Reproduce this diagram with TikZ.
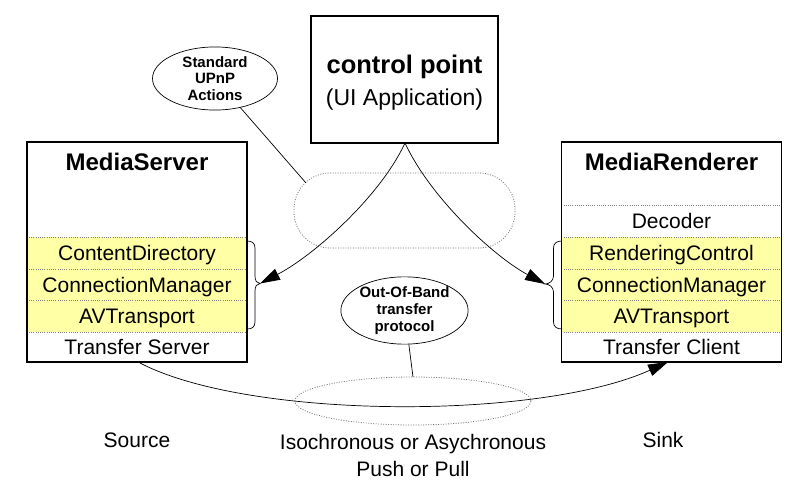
\documentclass[tikz,border=0pt]{standalone}
\usepackage{fontspec}
\setmainfont{Liberation Sans}
\usetikzlibrary{arrows.meta,shapes.geometric,calc}
\definecolor{svcyellow}{RGB}{255,255,165}
\begin{document}
\begin{tikzpicture}[x=1pt,y=-1pt,
  txt/.style={inner sep=0pt, text height=15pt, text depth=0pt, font=\fontsize{21}{24}\selectfont},
  titletxt/.style={inner sep=0pt, text height=17pt, text depth=0pt, font=\bfseries\fontsize{24}{27}\selectfont},
  row/.style={minimum width=220pt, minimum height=31.67pt, inner sep=0pt, text height=15pt, text depth=0pt, font=\fontsize{21}{24}\selectfont},
  yrow/.style={row, fill=svcyellow},
  sep/.style={draw=gray, line width=0.6pt, dash pattern=on 0.8pt off 1.4pt},
  frame/.style={draw=black, line width=1.1pt, minimum width=220pt, minimum height=220pt, inner sep=0pt},
  bub/.style={ellipse, draw, line width=0.7pt, inner sep=0pt, align=center, font=\bfseries\fontsize{15}{16.8}\selectfont},
  conn/.style={line width=0.7pt},
  arr/.style={conn, -{Triangle[length=20pt,width=12pt]}},
  halo/.style={draw=black!55, line width=0.8pt, dash pattern=on 0.9pt off 1.6pt}
]
\useasboundingbox (0,0) rectangle (799,486);
\fill[white] (0,0) rectangle (799,486);

% ---- control point ----
\node[draw, line width=1.1pt, minimum width=187pt, minimum height=127pt, inner sep=0pt] (cp) at (404.5,79.5) {};
\node[inner sep=0pt, text height=18pt, text depth=0pt, font=\bfseries\fontsize{25.5}{28}\selectfont] (cpt) at (404.5,65) {control point};
\node[inner sep=0pt, text height=16.6pt, text depth=0pt, font=\fontsize{23}{26}\selectfont] (cpu) at (404.5,97) {(UI Application)};

% ---- halos ----
\draw[halo, rounded corners=36pt] (294,173) rectangle (515,248);
\coordinate (halotop) at (306,183);
\draw[halo] (413,401) ellipse [x radius=118pt, y radius=24pt];
\coordinate (halobot) at (413,377);

% ---- bubbles ----
\node[bub, minimum width=125pt, minimum height=63pt] (sua) at (215,78.5) {Standard\\UPnP\\Actions};
\node[bub, minimum width=125pt, minimum height=55pt] (oob) at (404.5,310.5) {Out-Of-Band\\transfer\\protocol};
\draw[conn] (sua) -- (halotop);
\draw[conn] (oob) -- (halobot);

% ---- MediaServer ----
\node[yrow] (cd) at (137,253) {ContentDirectory};
\node[yrow] (cm1) at (137,284.67) {ConnectionManager};
\node[yrow] (av1) at (137,316.33) {AVTransport};
\node[row, minimum height=30pt] (ts) at (137,347) {Transfer Server};
\draw[sep] (cd.north west) -- (cd.north east);
\draw[sep] (cd.south west) -- (cd.south east);
\draw[sep] (cm1.south west) -- (cm1.south east);
\draw[sep] (av1.south west) -- (av1.south east);
\node[frame] (ms) at (137,252) {};
\node[titletxt] (mst) at (137,162) {MediaServer};

% ---- MediaRenderer ----
\node[row, minimum height=31pt] (dec) at (671.5,221.5) {Decoder};
\node[yrow] (rc) at (671.5,253) {RenderingControl};
\node[yrow] (cm2) at (671.5,284.67) {ConnectionManager};
\node[yrow] (av2) at (671.5,316.33) {AVTransport};
\node[row, minimum height=30pt] (tc) at (671.5,347) {Transfer Client};
\draw[sep] (dec.north west) -- (dec.north east);
\draw[sep] (rc.north west) -- (rc.north east);
\draw[sep] (rc.south west) -- (rc.south east);
\draw[sep] (cm2.south west) -- (cm2.south east);
\draw[sep] (av2.south west) -- (av2.south east);
\node[frame] (mr) at (671.5,252) {};
\node[titletxt] (mrt) at (671.5,162) {MediaRenderer};

% ---- braces ----
\coordinate (msb) at (260,283.5);
\coordinate (mrb) at (545,284);
\draw[conn] (247,241) .. controls (252,241) and (255,243) .. (255,248) -- (255,276)
  .. controls (255,281) and (257,283.5) .. (msb)
  .. controls (257,283.5) and (255,286) .. (255,291) -- (255,322)
  .. controls (255,327) and (252,329) .. (247,329);
\draw[conn] (562,241) .. controls (557,241) and (553.5,243) .. (553.5,248) -- (553.5,276)
  .. controls (553.5,281) and (549,284) .. (mrb)
  .. controls (549,284) and (553.5,287) .. (553.5,292) -- (553.5,322)
  .. controls (553.5,327) and (557,329) .. (562,329);

% ---- control arrows ----
\coordinate (cpb) at (405,143);
\draw[arr] (cpb) .. controls (380,197) and (313,256) .. (msb);
\draw[arr] (cpb) .. controls (430,197) and (493,256) .. (mrb);

% ---- transfer arrow ----
\coordinate (tsb) at (140,363);
\coordinate (tcb) at (668,362);
\draw[arr] (tsb) .. controls (250,420) and (540,420) .. (tcb);

% ---- labels ----
\node[txt] (src) at (137,440) {Source};
\node[txt] (snk) at (663,440) {Sink};
\node[txt] (iso) at (413,442) {Isochronous or Asychronous};
\node[txt] (pp) at (413,469) {Push or Pull};
\end{tikzpicture}
\end{document}
